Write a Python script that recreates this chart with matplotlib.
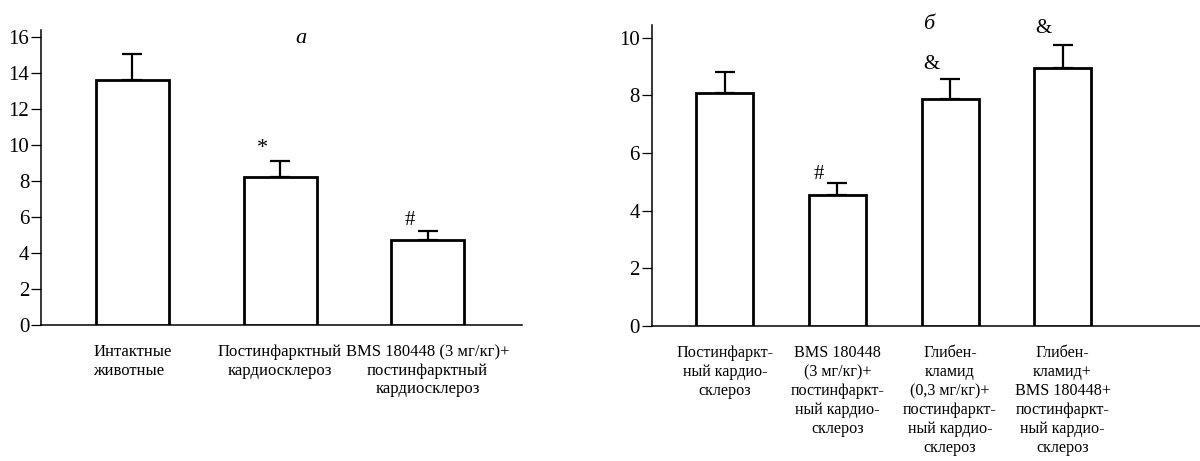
import matplotlib.pyplot as plt
import numpy as np

plt.rcParams['font.family'] = ['Liberation Serif', 'DejaVu Serif']

# ==================== данные ====================
labels_a = ['Интактные\nживотные',
            'Постинфарктный\nкардиосклероз',
            'BMS 180448 (3 мг/кг)+\nпостинфарктный\nкардиосклероз']
means_a = [13.6, 8.25, 4.75]
errs_a = [1.45, 0.85, 0.5]
marks_a = ['', '*', '#']

labels_b = ['Постинфаркт-\nный кардио-\nсклероз',
            'BMS 180448\n(3 мг/кг)+\nпостинфаркт-\nный кардио-\nсклероз',
            'Глибен-\nкламид\n(0,3 мг/кг)+\nпостинфаркт-\nный кардио-\nсклероз',
            'Глибен-\nкламид+\nBMS 180448+\nпостинфаркт-\nный кардио-\nсклероз']
means_b = [8.1, 4.55, 7.87, 8.95]
errs_b = [0.73, 0.42, 0.72, 0.8]
marks_b = ['', '#', '&', '&']

fig = plt.figure(figsize=(12, 4.61), dpi=100, facecolor='white')
H = 461.0


def panel(rect, labels, means, errs, marks, ylim, yticks, xlim, width,
          title, title_xy, mark_dx, mark_off, lab_fs, lab_ls):
    ax = fig.add_axes(rect)
    x = np.arange(len(means))
    ax.bar(x, means, width=width, color='white', edgecolor='black',
           linewidth=2, zorder=3)
    ax.errorbar(x, means, yerr=[np.zeros(len(errs)), errs], fmt='none',
                ecolor='black', elinewidth=1.6, capsize=7, capthick=1.6, zorder=2)
    for xi, m, e, s, off in zip(x, means, errs, marks, mark_off):
        if s:
            ax.annotate(s, (xi + mark_dx, m + e), xytext=(0, off),
                        textcoords='offset points', ha='center', va='center',
                        fontsize=16 if s == '*' else 15)
    ax.set_xlim(*xlim)
    ax.set_ylim(*ylim)
    ax.set_yticks(yticks)
    ax.set_xticks(x)
    ax.set_xticklabels(labels, fontsize=lab_fs, linespacing=lab_ls)
    ax.tick_params(axis='x', length=0, pad=14)
    ax.tick_params(axis='y', direction='out', length=7, width=0.9,
                   labelsize=15, pad=1.5)
    for sp in ['top', 'right']:
        ax.spines[sp].set_visible(False)
    for sp in ['left', 'bottom']:
        ax.spines[sp].set_linewidth(1.1)
    ax.text(title_xy[0], title_xy[1], title, transform=ax.transAxes,
            fontsize=16, style='italic', ha='center', va='center')
    return ax


# a
ax1 = panel([41 / 1200, 1 - 325 / H, (522 - 41) / 1200, (325 - 30) / H],
            labels_a, means_a, errs_a, marks_a, (0, 16.4), range(0, 17, 2),
            (-0.62, 2.64), 0.495, 'а', (0.54, 0.97), -0.12, [0, 9, 7],
            12, 1.2)
ax1.get_xticklabels()[0].set_multialignment('left')

# б
ax2 = panel([651.7 / 1200, 1 - 325.7 / H, (1200 - 651.7) / 1200, (325.7 - 25) / H],
            labels_b, means_b, errs_b, marks_b, (0, 10.45), range(0, 11, 2),
            (-0.65, 4.22), 0.507, 'б', (0.505, 1.0), -0.17, [0, 6, 10, 12],
            11.6, 1.25)

plt.savefig('out.png', dpi=100, facecolor='white')
